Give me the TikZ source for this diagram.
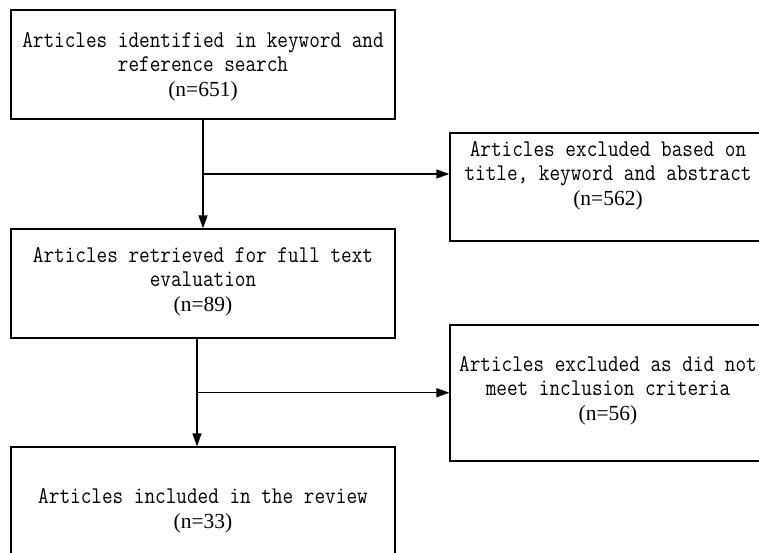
\documentclass[tikz,border=0pt]{standalone}
\usepackage{fontspec}
\setmonofont[FakeStretch=0.86]{Latin Modern Mono}
\newfontfamily\countfont{Liberation Serif}
\usetikzlibrary{arrows.meta}

\tikzset{
  stagebox/.style={draw=black, line width=1.3pt, rectangle, inner sep=0pt},
  label/.style={align=center, inner sep=0pt, anchor=base,
    font=\ttfamily\fontsize{24}{24.4}\selectfont},
  link/.style={line width=1.3pt, -{Triangle[length=13pt,width=9pt]}},
}
\newcommand{\cnt}[1]{{\countfont\fontsize{21.5}{24.4}\selectfont #1}}

\begin{document}
\begin{tikzpicture}[x=1pt, y=-1pt]
  \useasboundingbox (0,0) rectangle (759,552);
  \clip (0,0) rectangle (759,552);

  % stages on the main path
  \node[stagebox, minimum width=384pt, minimum height=109pt] (b1) at (203,64.5) {};
  \node[stagebox, minimum width=384pt, minimum height=109pt] (b2) at (203,283.5) {};
  \node[stagebox, minimum width=384pt, minimum height=109pt] (b3) at (203,501.5) {};

  % exclusion boxes on the right
  \node[stagebox, minimum width=316pt, minimum height=108pt] (r1) at (608,187) {};
  \node[stagebox, minimum width=316pt, minimum height=136pt] (r2) at (608,393) {};

  % texts (anchored at the baseline of their last line)
  \node[label] (t1) at (203,96) {Articles identified in keyword and\\reference search\\\cnt{(n=651)}};
  \node[label] (t2) at (203,311) {Articles retrieved for full text\\evaluation\\\cnt{(n=89)}};
  \node[label] (t3) at (203,528) {Articles included in the review\\\cnt{(n=33)}};
  \node[label] (t4) at (608,205) {Articles excluded based on\\title, keyword and abstract\\\cnt{(n=562)}};
  \node[label] (t5) at (608,420) {Articles excluded as did not\\meet inclusion criteria\\\cnt{(n=56)}};

  % junctions of the side branches
  \coordinate (j1) at (203,174);
  \coordinate (j2) at (197,392.7);

  % connectors
  \draw[link] (b1.south) -- (b2.north);
  \draw[link] (j1) -- (j1 -| r1.west);
  \draw[link] (b2.south -| j2) -- (b3.north -| j2);
  \draw[link] (j2) -- (j2 -| r2.west);
\end{tikzpicture}
\end{document}
